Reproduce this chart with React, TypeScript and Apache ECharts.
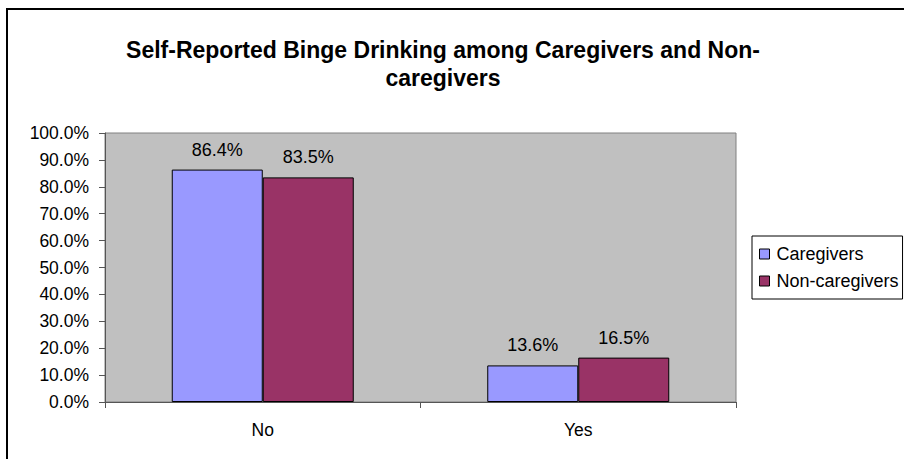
import React, { useEffect, useRef } from "react";
import * as echarts from "echarts";

const categories = ["No", "Yes"];
const caregivers = [86.4, 13.6];
const nonCaregivers = [83.5, 16.5];
const seriesNames = ["Caregivers", "Non-caregivers"];
const titleText = "Self-Reported Binge Drinking among Caregivers and Non-\ncaregivers";

export default function App() {
  const ref = useRef<HTMLDivElement>(null);
  useEffect(() => {
    document.body.style.margin = "0";
    const chart = echarts.init(ref.current!, null, { renderer: "svg" });
    const font = "'Liberation Sans', Arial, sans-serif";
    const labelFmt = (p: any) => Number(p.value).toFixed(1) + "%";
    chart.setOption({
      animation: false,
      backgroundColor: "#ffffff",
      textStyle: { fontFamily: font },
      title: {
        text: titleText,
        left: 438,
        top: 31,
        textAlign: "center",
        textStyle: { fontFamily: font, fontSize: 23, fontWeight: "bold", color: "#000", lineHeight: 28 },
      },
      graphic: [
        {
          type: "rect",
          shape: { x: 7, y: 9, width: 1200, height: 1200 },
          style: { fill: "none", stroke: "#000", lineWidth: 2 },
          silent: true,
        },
      ],
      legend: {
        orient: "vertical",
        left: 752,
        top: 236,
        itemWidth: 10,
        itemHeight: 10,
        itemGap: 9,
        itemStyle: { borderColor: "#000", borderWidth: 1 },
        borderColor: "#000",
        borderWidth: 1,
        borderRadius: 0,
        padding: [9, 4, 9, 7],
        icon: "rect",
        data: seriesNames,
        textStyle: { fontFamily: font, fontSize: 18, color: "#000", padding: [0, 0, 0, 2] },
      },
      grid: {
        left: 105,
        right: 168,
        top: 133,
        bottom: 57,
        show: true,
        backgroundColor: "#c0c0c0",
        borderColor: "#808080",
        borderWidth: 1,
        containLabel: false,
      },
      xAxis: {
        type: "category",
        data: categories,
        axisLine: { show: true, lineStyle: { color: "#555", width: 1 } },
        axisTick: { show: true, alignWithLabel: false, length: 6, lineStyle: { color: "#555" } },
        axisLabel: { fontFamily: font, fontSize: 17.5, color: "#000", margin: 19 },
        splitLine: { show: false },
      },
      yAxis: {
        type: "value",
        min: 0,
        max: 100,
        interval: 10,
        axisLine: { show: true, lineStyle: { color: "#555", width: 1 } },
        axisTick: { show: true, length: 6, lineStyle: { color: "#555" } },
        axisLabel: {
          fontFamily: font,
          fontSize: 17.5,
          color: "#000",
          margin: 16,
          formatter: (v: number) => v.toFixed(1) + "%",
        },
        splitLine: { show: false },
      },
      series: [
        {
          name: seriesNames[0],
          type: "bar",
          data: caregivers,
          barWidth: 91,
          barGap: "0%",
          itemStyle: { color: "#9999ff", borderColor: "#000", borderWidth: 1 },
          label: { show: true, position: "top", distance: 11, fontFamily: font, fontSize: 18, color: "#000", formatter: labelFmt },
        },
        {
          name: seriesNames[1],
          type: "bar",
          data: nonCaregivers,
          barWidth: 91,
          barGap: "0%",
          itemStyle: { color: "#993366", borderColor: "#000", borderWidth: 1 },
          label: { show: true, position: "top", distance: 11, fontFamily: font, fontSize: 18, color: "#000", formatter: labelFmt },
        },
      ],
    });
    return () => chart.dispose();
  }, []);
  return <div ref={ref} style={{ width: 904, height: 459 }} />;
}
